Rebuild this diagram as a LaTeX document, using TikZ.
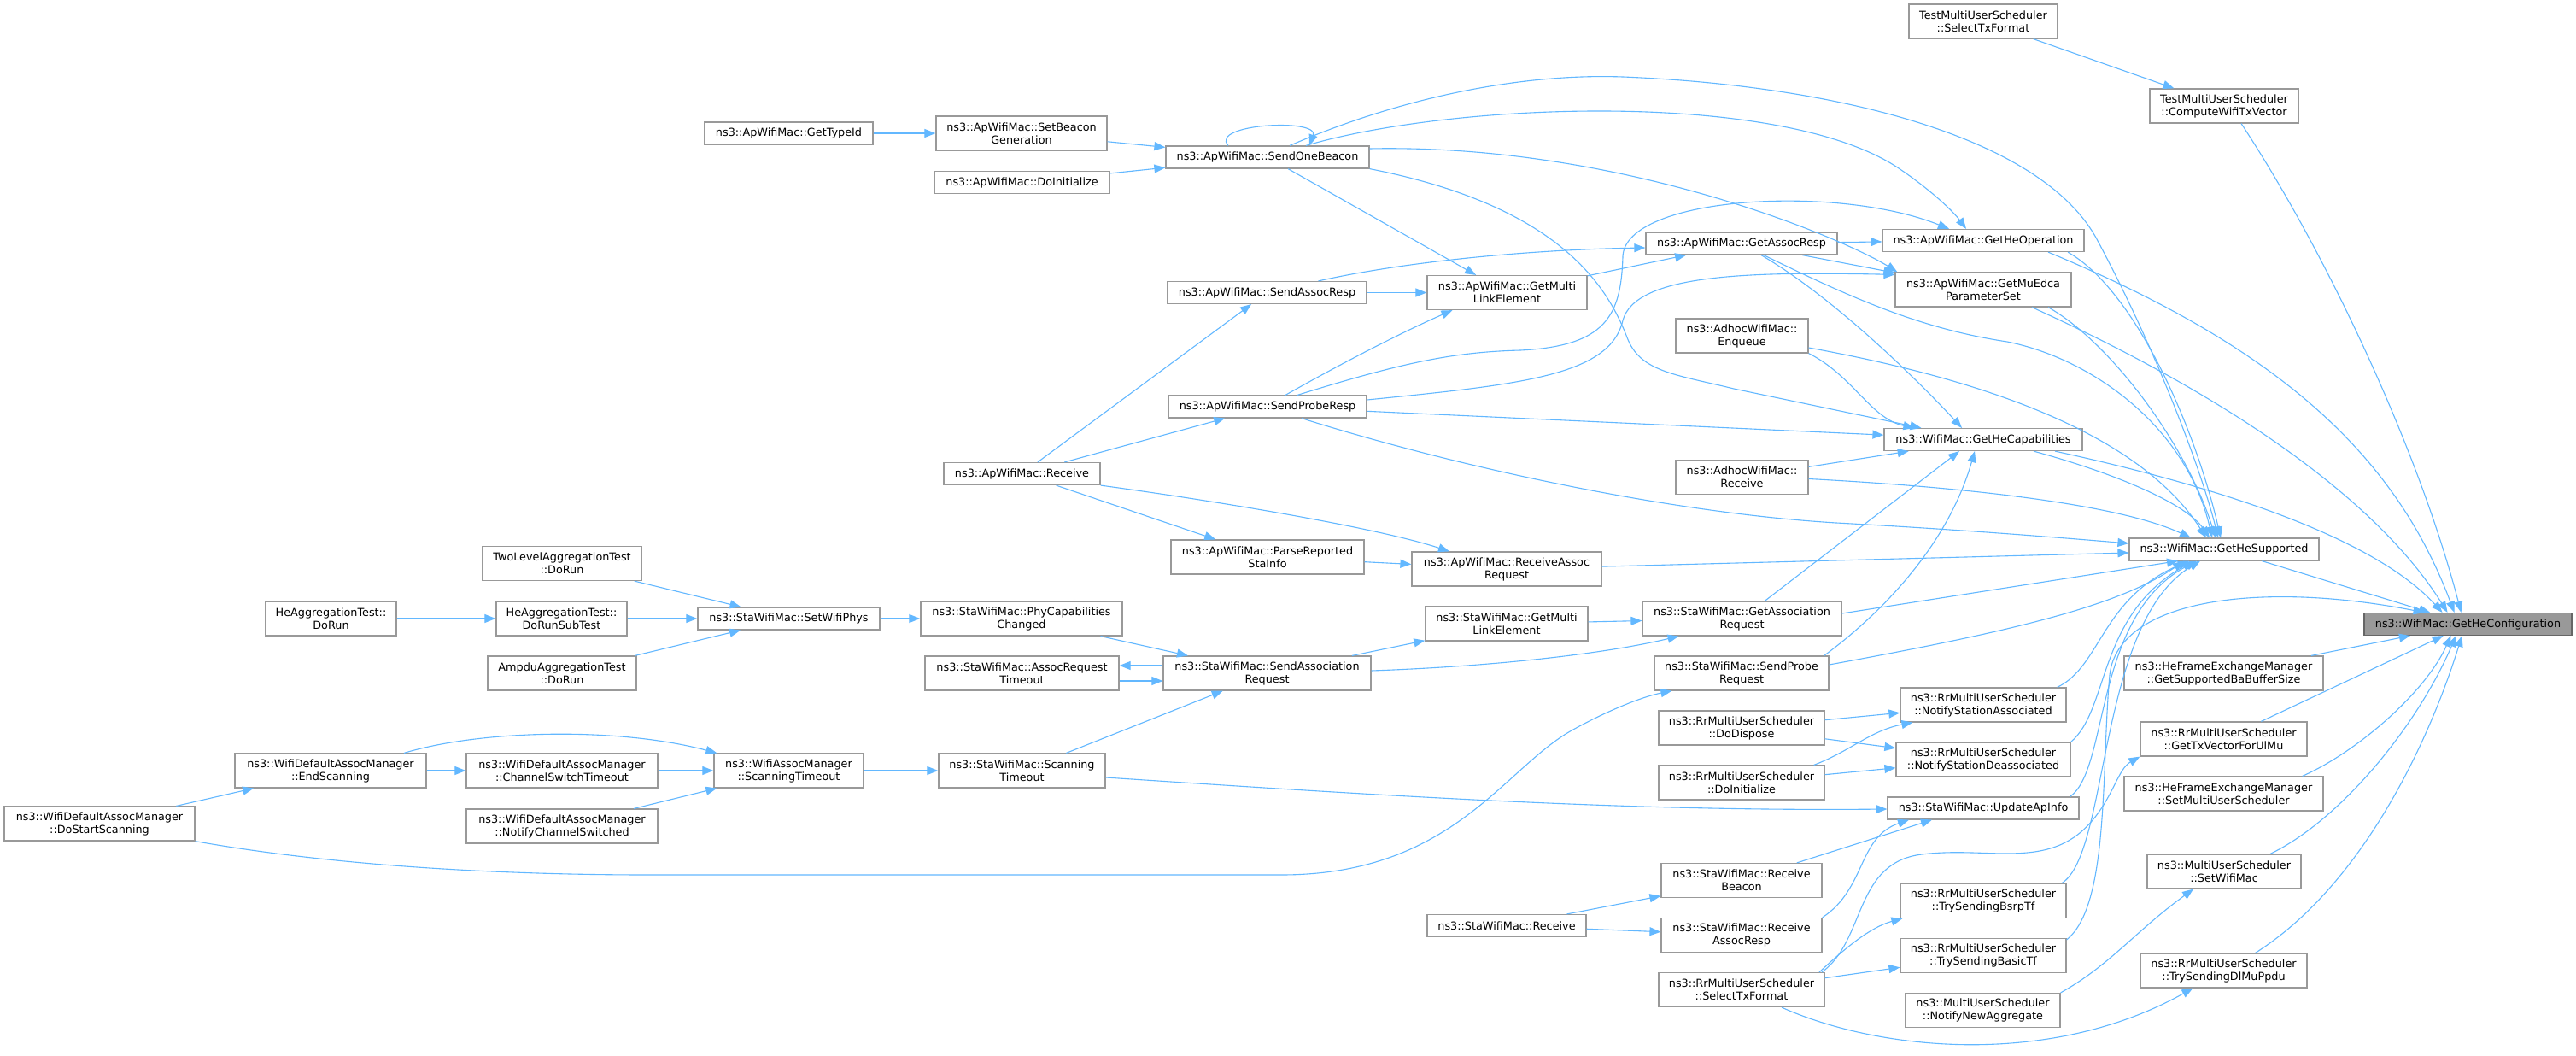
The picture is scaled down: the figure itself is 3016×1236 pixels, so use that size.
\documentclass[tikz,border=0pt]{standalone}
\usepackage{fontspec}
\setmainfont{DejaVu Sans}
\usetikzlibrary{arrows.meta}

\begin{document}
\begin{tikzpicture}[x=1pt, y=-1pt,
  fn/.style={draw=boxgray, fill=white, line width=1.2pt, align=center, inner sep=0pt,
    font=\fontsize{12.8}{15}\selectfont, minimum height=26},
  fnn/.style={fn, minimum height=40},
  root/.style={fill=rootgray, draw=rootline},
  call/.style={draw=edgeblue, line width=1.1pt, -{Triangle[length=13pt, width=10pt]}}]

  % Define custom colors
  \definecolor{boxgray}{HTML}{999999}
  \definecolor{rootgray}{HTML}{999999}
  \definecolor{rootline}{HTML}{666666}
  \definecolor{edgeblue}{HTML}{63B8FF}
  % Canvas
  \fill[white] (0,0) rectangle (3016,1236);
  \useasboundingbox (0,0) rectangle (3016,1236);

  % Column 1 and 2
  \node[fnn, minimum width=223] (startscan) at (116.5,964) {ns3::WifiDefaultAssocManager\\::DoStartScanning};
  \node[fnn, minimum width=153] (heaggrun) at (387.5,724) {HeAggregationTest::\\DoRun};
  \node[fnn, minimum width=224] (endscan) at (387,902) {ns3::WifiDefaultAssocManager\\::EndScanning};
  % Column 3
  \node[fnn, minimum width=186] (twolevel) at (658,659.5) {TwoLevelAggregationTest\\::DoRun};
  \node[fnn, minimum width=153] (heaggsub) at (657.5,724) {HeAggregationTest::\\DoRunSubTest};
  \node[fnn, minimum width=174] (ampdu) at (658,788) {AmpduAggregationTest\\::DoRun};
  \node[fnn, minimum width=224] (chswitch) at (658,902) {ns3::WifiDefaultAssocManager\\::ChannelSwitchTimeout};
  \node[fnn, minimum width=224] (notifych) at (658,967) {ns3::WifiDefaultAssocManager\\::NotifyChannelSwitched};
  % Column 4
  \node[fn, minimum width=197] (gettypeid) at (923.5,156) {ns3::ApWifiMac::GetTypeId};
  \node[fn, minimum width=213] (setwifiphys) at (923.5,724) {ns3::StaWifiMac::SetWifiPhys};
  \node[fnn, minimum width=175] (wamscan) at (923.5,902) {ns3::WifiAssocManager\\::ScanningTimeout};
  % Column 5
  \node[fnn, minimum width=200] (setbeacon) at (1196,156) {ns3::ApWifiMac::SetBeacon\\Generation};
  \node[fn, minimum width=205] (apinit) at (1196.5,213.5) {ns3::ApWifiMac::DoInitialize};
  \node[fn, minimum width=183] (apreceive) at (1196.5,554.5) {ns3::ApWifiMac::Receive};
  \node[fnn, minimum width=236] (phycap) at (1196,724) {ns3::StaWifiMac::PhyCapabilities\\Changed};
  \node[fnn, minimum width=227] (assoctimeout) at (1196.5,788) {ns3::StaWifiMac::AssocRequest\\Timeout};
  \node[fnn, minimum width=195] (stascan) at (1196.5,902) {ns3::StaWifiMac::Scanning\\Timeout};
  % Column 6
  \node[fn, minimum width=238] (sendbeacon) at (1484,184) {ns3::ApWifiMac::SendOneBeacon};
  \node[fn, minimum width=233] (sendassocresp) at (1483.5,342.5) {ns3::ApWifiMac::SendAssocResp};
  \node[fn, minimum width=232] (sendproberesp) at (1484,476) {ns3::ApWifiMac::SendProbeResp};
  \node[fnn, minimum width=226] (parsesta) at (1484,652) {ns3::ApWifiMac::ParseReported\\StaInfo};
  \node[fnn, minimum width=243] (sendassocreq) at (1483.5,788) {ns3::StaWifiMac::SendAssociation\\Request};
  % Column 7
  \node[fnn, minimum width=187] (apmle) at (1764.5,342.5) {ns3::ApWifiMac::GetMulti\\LinkElement};
  \node[fnn, minimum width=222] (recvassocreq) at (1764,666) {ns3::ApWifiMac::ReceiveAssoc\\Request};
  \node[fnn, minimum width=190] (stamle) at (1764,730) {ns3::StaWifiMac::GetMulti\\LinkElement};
  \node[fn, minimum width=186] (stareceive) at (1764,1083.5) {ns3::StaWifiMac::Receive};
  % Column 8
  \node[fn, minimum width=224] (getassocresp) at (2039,285) {ns3::ApWifiMac::GetAssocResp};
  \node[fnn, minimum width=155] (adhocenq) at (2039.5,393) {ns3::AdhocWifiMac::\\Enqueue};
  \node[fnn, minimum width=155] (adhocrecv) at (2039.5,558.5) {ns3::AdhocWifiMac::\\Receive};
  \node[fnn, minimum width=233] (getassocreq) at (2039.5,724) {ns3::StaWifiMac::GetAssociation\\Request};
  \node[fnn, minimum width=204] (sendprobereq) at (2039,788) {ns3::StaWifiMac::SendProbe\\Request};
  \node[fnn, minimum width=194] (rrdispose) at (2039,852) {ns3::RrMultiUserScheduler\\::DoDispose};
  \node[fnn, minimum width=194] (rrinit) at (2039,916) {ns3::RrMultiUserScheduler\\::DoInitialize};
  \node[fnn, minimum width=188] (recvbeacon) at (2039,1030.5) {ns3::StaWifiMac::Receive\\Beacon};
  \node[fnn, minimum width=188] (recvassocresp) at (2039,1094.5) {ns3::StaWifiMac::Receive\\AssocResp};
  \node[fnn, minimum width=194] (rrselect) at (2039,1158.5) {ns3::RrMultiUserScheduler\\::SelectTxFormat};
  % Column 9
  \node[fnn, minimum width=174] (testselect) at (2322,25) {TestMultiUserScheduler\\::SelectTxFormat};
  \node[fn, minimum width=236] (getheop) at (2322,281.5) {ns3::ApWifiMac::GetHeOperation};
  \node[fnn, minimum width=206] (getmuedca) at (2322,339) {ns3::ApWifiMac::GetMuEdca\\ParameterSet};
  \node[fn, minimum width=232] (getheca) at (2322,514.5) {ns3::WifiMac::GetHeCapabilities};
  \node[fnn, minimum width=194] (notifyassoc) at (2322,825) {ns3::RrMultiUserScheduler\\::NotifyStationAssociated};
  \node[fnn, minimum width=204] (notifydeassoc) at (2322,889) {ns3::RrMultiUserScheduler\\::NotifyStationDeassociated};
  \node[fn, minimum width=224] (updateap) at (2322,946) {ns3::StaWifiMac::UpdateApInfo};
  \node[fnn, minimum width=194] (bsrptf) at (2322,1054.5) {ns3::RrMultiUserScheduler\\::TrySendingBsrpTf};
  \node[fnn, minimum width=194] (basictf) at (2322,1118.5) {ns3::RrMultiUserScheduler\\::TrySendingBasicTf};
  \node[fnn, minimum width=181] (newagg) at (2321.5,1182.5) {ns3::MultiUserScheduler\\::NotifyNewAggregate};
  % Column 10
  \node[fnn, minimum width=174] (testcompute) at (2604,124) {TestMultiUserScheduler\\::ComputeWifiTxVector};
  \node[fn, minimum width=222] (gethesup) at (2604,643) {ns3::WifiMac::GetHeSupported};
  \node[fnn, minimum width=233] (babuf) at (2603.5,788) {ns3::HeFrameExchangeManager\\::GetSupportedBaBufferSize};
  \node[fnn, minimum width=195] (ulmu) at (2603.5,865) {ns3::RrMultiUserScheduler\\::GetTxVectorForUlMu};
  \node[fnn, minimum width=233] (setmus) at (2603.5,929) {ns3::HeFrameExchangeManager\\::SetMultiUserScheduler};
  \node[fnn, minimum width=180] (setwifimac) at (2604,1020) {ns3::MultiUserScheduler\\::SetWifiMac};
  \node[fnn, minimum width=195] (dlmuppdu) at (2603.5,1136) {ns3::RrMultiUserScheduler\\::TrySendingDlMuPpdu};
  % Root
  \node[fn, root, minimum width=243] (gethecfg) at (2889.5,730.5) {ns3::WifiMac::GetHeConfiguration};

  % Calls on the left
  \draw[call] (heaggrun) -- (heaggsub);
  \draw[call] (twolevel) -- (setwifiphys);
  \draw[call] (heaggsub) -- (setwifiphys);
  \draw[call] (ampdu) -- (setwifiphys);
  \draw[call] (setwifiphys) -- (phycap);
  \draw[call] (phycap) -- (sendassocreq);
  \draw[call] ([yshift=9pt]sendassocreq.west) -- ([yshift=9pt]assoctimeout.east);
  \draw[call] ([yshift=-9pt]assoctimeout.east) -- ([yshift=-9pt]sendassocreq.west);
  \draw[call] (startscan) -- (endscan);
  \draw[call] (endscan) -- (chswitch);
  \draw[call] ([xshift=86pt]endscan.north) .. controls (560,855) and (720,850) .. ([xshift=4pt]wamscan.north west);
  \draw[call] (chswitch) -- (wamscan);
  \draw[call] (notifych) -- (wamscan);
  \draw[call] (wamscan) -- (stascan);
  \draw[call] (stascan) -- (sendassocreq);
  \draw[call] ([yshift=-8pt]stascan.east) .. controls (1600,930) and (1900,950) .. ([yshift=-1pt]updateap.west);
  \draw[call] (startscan.south east) .. controls (400,1015) and (600,1024) .. (760,1024) -- (1500,1024)
    .. controls (1700,1024) and (1760,900) .. (1840,855) .. controls (1885,830) and (1925,815) .. ([xshift=21pt]sendprobereq.south west);
  % Beacon
  \draw[call] (gettypeid) -- (setbeacon);
  \draw[call] (setbeacon) -- (sendbeacon);
  \draw[call] (apinit) -- (sendbeacon);
  \draw[call] ([xshift=-46pt]sendbeacon.north) .. controls (1415,145) and (1545,138) .. ([xshift=49pt]sendbeacon.north);
  \draw[call] (sendbeacon) -- (apmle);
  \draw[call] ([yshift=10pt]sendbeacon.east) .. controls (1900,168) and (2160,280) .. ([xshift=3pt]getmuedca.north west);
  \draw[call] (sendbeacon.south east) .. controls (1820,240) and (1880,330) .. (1905,395)
    .. controls (1920,435) and (1960,438) .. (2030,455) -- ([xshift=44pt]getheca.north west);
  \draw[call] ([xshift=26pt]sendbeacon.north) .. controls (1650,110) and (1790,86) .. (1900,90)
    .. controls (2150,100) and (2390,160) .. (2455,280) .. controls (2530,420) and (2580,560) .. ([xshift=-7pt]gethesup.north);
  \draw[call] ([xshift=45pt]sendbeacon.north) .. controls (1700,120) and (2080,105) .. (2220,195)
    .. controls (2255,218) and (2285,245) .. ([xshift=-20pt]getheop.north);
  % Ap receive
  \draw[call] (apreceive) -- (sendassocresp);
  \draw[call] (apreceive) -- (sendproberesp);
  \draw[call] (apreceive) -- (parsesta);
  \draw[call] (apreceive.south east) .. controls (1450,590) and (1620,620) .. ([xshift=-67pt]recvassocreq.north);
  \draw[call] (parsesta) -- (recvassocreq);
  \draw[call] (recvassocreq) -- ([yshift=-4pt]gethesup.west);
  % Assoc and probe responses
  \draw[call] (sendassocresp) -- (apmle);
  \draw[call] ([xshift=60pt]sendassocresp.north) .. controls (1650,305) and (1800,292) .. ([yshift=-5pt]getassocresp.west);
  \draw[call] ([xshift=21pt]sendproberesp.north) .. controls (1580,420) and (1650,385) .. ([xshift=-64pt]apmle.south);
  \draw[call] ([xshift=35pt]sendproberesp.north) .. controls (1640,425) and (1700,412) .. (1780,410)
    .. controls (1880,405) and (1898,370) .. (1900,300) .. controls (1903,230) and (2150,215) .. ([xshift=-40pt]getheop.north);
  \draw[call] ([yshift=8pt]sendproberesp.east) .. controls (1780,450) and (1885,440) .. (1900,375)
    .. controls (1915,320) and (2050,318) .. ([yshift=-3pt]getmuedca.north west);
  \draw[call] (sendproberesp) -- (getheca);
  \draw[call] ([xshift=40pt]sendproberesp.south) .. controls (1700,545) and (1950,600) .. (2150,612)
    .. controls (2300,620) and (2420,630) .. ([yshift=7pt]gethesup.west);
  \draw[call] (apmle) -- (getassocresp);
  \draw[call] (getassocresp) -- (getheop);
  \draw[call] (getassocresp) -- (getmuedca);
  \draw[call] ([xshift=23pt]getassocresp.south) .. controls (2150,350) and (2250,450) .. ([xshift=-25pt]getheca.north);
  \draw[call] ([xshift=26pt]getassocresp.south) .. controls (2170,350) and (2250,385) .. (2350,400)
    .. controls (2450,420) and (2560,500) .. ([xshift=-14pt]gethesup.north);
  % Adhoc
  \draw[call] (adhocenq.south east) .. controls (2170,440) and (2190,490) .. ([xshift=36pt]getheca.north west);
  \draw[call] ([yshift=-14pt]adhocenq.east) .. controls (2300,440) and (2500,500) .. ([xshift=-21pt]gethesup.north);
  \draw[call] (adhocrecv) -- (getheca);
  \draw[call] ([yshift=-2pt]adhocrecv.east) .. controls (2300,570) and (2480,590) .. ([xshift=-39pt]gethesup.north);
  % Sta association
  \draw[call] (sendassocreq) -- (stamle);
  \draw[call] ([yshift=3pt]sendassocreq.east) .. controls (1750,780) and (1880,765) .. ([xshift=-74pt]getassocreq.south);
  \draw[call] (stamle) -- (getassocreq);
  \draw[call] (getassocreq) -- ([xshift=-28pt]getheca.south);
  \draw[call] ([yshift=6pt]getassocreq.east) -- ([xshift=-54pt]gethesup.south);
  \draw[call] ([xshift=-6pt]sendprobereq.north east) .. controls (2200,720) and (2280,640) .. ([xshift=-10pt]getheca.south);
  \draw[call] ([yshift=10pt]sendprobereq.east) .. controls (2350,740) and (2480,710) .. ([xshift=-47pt]gethesup.south);
  % Scheduler
  \draw[call] (rrdispose) -- (notifyassoc);
  \draw[call] (rrdispose) -- (notifydeassoc);
  \draw[call] ([xshift=-13pt]rrinit.north east) .. controls (2165,880) and (2190,855) .. ([xshift=15pt]notifyassoc.south west);
  \draw[call] (rrinit) -- (notifydeassoc);
  \draw[call] ([xshift=-11pt]notifyassoc.north east) .. controls (2460,780) and (2460,700) .. ([xshift=-41pt]gethesup.south);
  \draw[call] (notifydeassoc.north east) .. controls (2470,830) and (2455,720) .. ([xshift=-36pt]gethesup.south);
  \draw[call] ([xshift=-11pt]updateap.north east) .. controls (2470,900) and (2450,720) .. ([xshift=-32pt]gethesup.south);
  \draw[call] ([xshift=-6pt]bsrptf.north east) .. controls (2470,1000) and (2455,730) .. ([xshift=-28pt]gethesup.south);
  \draw[call] ([yshift=-2pt]basictf.north east) .. controls (2470,1060) and (2460,900) .. (2470,790)
    .. controls (2480,700) and (2650,680) .. ([xshift=-51pt]gethecfg.north);
  % Sta receive
  \draw[call] (stareceive) -- (recvbeacon);
  \draw[call] (stareceive) -- (recvassocresp);
  \draw[call] (recvbeacon) -- ([xshift=-60pt]updateap.south);
  \draw[call] (recvassocresp.north east) .. controls (2185,1040) and (2175,980) .. ([xshift=-87pt]updateap.south);
  % Select tx format
  \draw[call] ([xshift=91pt]rrselect.north) .. controls (2160,1110) and (2190,1085) .. ([xshift=3pt]bsrptf.south west);
  \draw[call] (rrselect) -- (basictf);
  \draw[call] ([xshift=94pt]rrselect.north) .. controls (2185,1100) and (2170,1010) .. (2250,1000)
    .. controls (2330,990) and (2400,1020) .. (2450,960) .. controls (2475,930) and (2480,900) .. (ulmu.south west);
  \draw[call] ([xshift=47pt]rrselect.south) .. controls (2200,1230) and (2400,1250) .. ([xshift=-36pt]dlmuppdu.south);
  \draw[call] (newagg.north east) .. controls (2470,1130) and (2500,1090) .. ([xshift=-36pt]setwifimac.south);
  % Into the root
  \draw[call] (testselect) -- (testcompute);
  \draw[call] ([xshift=76pt]getheop.south) .. controls (2650,400) and (2800,520) .. ([xshift=-16pt]gethecfg.north);
  \draw[call] ([xshift=99pt]getheop.south) .. controls (2500,340) and (2570,500) .. ([xshift=-4pt]gethesup.north);
  \draw[call] ([xshift=57pt]getmuedca.south) .. controls (2600,460) and (2780,580) .. ([xshift=-24pt]gethecfg.north);
  \draw[call] ([xshift=76pt]getmuedca.south) .. controls (2470,400) and (2560,520) .. ([xshift=-10pt]gethesup.north);
  \draw[call] ([xshift=84pt]getheca.south) .. controls (2600,570) and (2780,630) .. ([xshift=-30pt]gethecfg.north);
  \draw[call] ([xshift=59pt]getheca.south) .. controls (2480,555) and (2560,590) .. ([xshift=-17pt]gethesup.north);
  \draw[call] ([xshift=20pt]testcompute.south) .. controls (2720,290) and (2830,520) .. ([xshift=-8pt]gethecfg.north);
  \draw[call] (gethesup) -- (gethecfg);
  \draw[call] (babuf) -- (gethecfg);
  \draw[call] (ulmu) -- (gethecfg);
  \draw[call] ([xshift=-25pt]setmus.north east) .. controls (2760,880) and (2840,810) .. ([xshift=-20pt]gethecfg.south);
  \draw[call] ([xshift=54pt]setwifimac.north) .. controls (2740,960) and (2830,850) .. ([xshift=-14pt]gethecfg.south);
  \draw[call] ([xshift=37pt]dlmuppdu.north) .. controls (2760,1040) and (2840,880) .. ([xshift=-7pt]gethecfg.south);

\end{tikzpicture}
\end{document}
